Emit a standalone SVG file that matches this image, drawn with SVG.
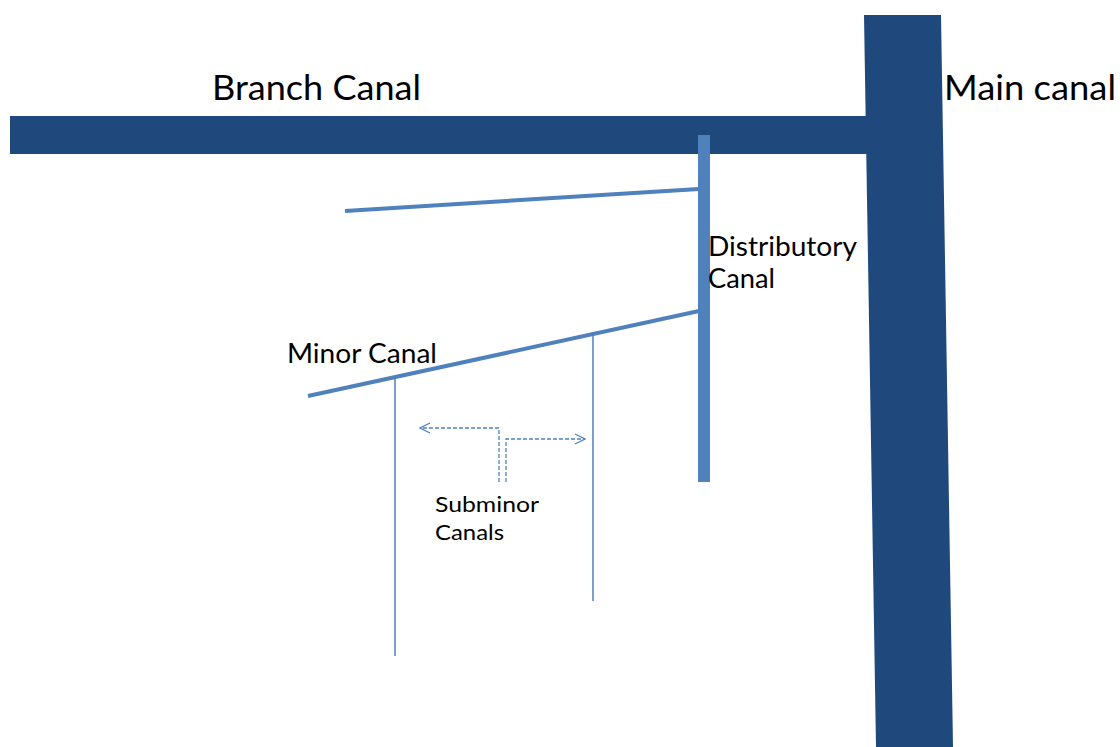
<svg xmlns="http://www.w3.org/2000/svg" width="1120" height="747" viewBox="0 0 1120 747">
<defs>
<style>
.lbl{font-family:Lato,"Open Sans","Liberation Sans",sans-serif;fill:#000}
.big{font-size:34px}
.mid{font-size:26px}
.sm{font-size:22px}
.lat{stroke:#4F81BD;stroke-width:4;fill:none}
.sub{stroke:#4F81BD;stroke-width:1.5;fill:none}
.dash{stroke:#4F81BD;stroke-width:1.3;fill:none;stroke-dasharray:4 2}
</style>
<marker id="open" viewBox="0 0 12 12" refX="11" refY="6" markerWidth="12" markerHeight="12" markerUnits="userSpaceOnUse" orient="auto">
<path d="M1,1 L11,6 L1,11" fill="none" stroke="#4F81BD" stroke-width="1.3"/>
</marker>
</defs>
<rect width="1120" height="747" fill="#fff"/>
<g id="main-canal">
<polygon points="864,15 941,15 953,747 876,747" fill="#1F497D"/>
<text class="lbl big" x="944" y="100" textLength="172" lengthAdjust="spacingAndGlyphs">Main canal</text>
</g>
<g id="branch-canal">
<rect x="10" y="116" width="858" height="38" fill="#1F497D"/>
<text class="lbl big" x="212" y="100" textLength="209" lengthAdjust="spacingAndGlyphs">Branch Canal</text>
</g>
<g id="distributory-canal">
<rect x="698" y="135" width="12" height="347" fill="#4F81BD"/>
<text class="lbl mid" x="708" y="256" textLength="149" lengthAdjust="spacingAndGlyphs">Distributory</text>
<text class="lbl mid" x="708" y="288" textLength="67" lengthAdjust="spacingAndGlyphs">Canal</text>
</g>
<g id="connectors">
<line class="lat" x1="345" y1="211" x2="699" y2="189"/>
<line class="lat" x1="308" y1="396" x2="699" y2="311"/>
<line class="sub" x1="395" y1="375" x2="395" y2="656"/>
<line class="sub" x1="593" y1="332" x2="593" y2="601"/>
<polyline class="dash" points="499,482 499,428 420,428" marker-end="url(#open)"/>
<polyline class="dash" points="506,482 506,439 585,439" marker-end="url(#open)"/>
</g>
<g id="minor-canal">
<text class="lbl mid" x="287" y="363" textLength="150" lengthAdjust="spacingAndGlyphs">Minor Canal</text>
</g>
<g id="subminor-canals">
<text class="lbl sm" x="435" y="512" textLength="104" lengthAdjust="spacingAndGlyphs">Subminor</text>
<text class="lbl sm" x="435" y="540" textLength="69" lengthAdjust="spacingAndGlyphs">Canals</text>
</g>
</svg>
